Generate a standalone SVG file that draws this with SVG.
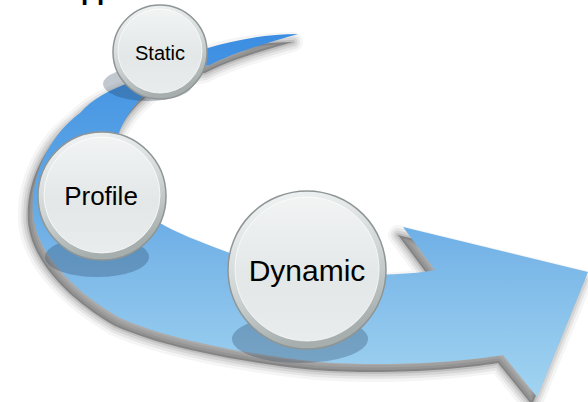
<svg xmlns="http://www.w3.org/2000/svg" width="588" height="402" viewBox="0 0 588 402">
  <defs>
    <path id="flowShape" d="M298,34 C270,42 235,52 210,65 C150,74 105,85 80,113 C50,135 30,175 33,215 C38,258 80,295 120,318 C170,340 250,355 320,362 C390,367 460,362 503,355 L537,397 L588,272 L403,227 L435,270 C390,279 290,275 227,252 C200,242 175,232 160,223 C120,200 108,160 120,130 C128,112 140,98 150,90 C170,70 190,55 208,48 C235,40 265,34 298,34 Z"/>
    <linearGradient id="bandFill" gradientUnits="userSpaceOnUse" x1="0" y1="30" x2="0" y2="400">
      <stop offset="0" stop-color="#3a8de2"/>
      <stop offset="0.45" stop-color="#62a8e6"/>
      <stop offset="0.62" stop-color="#7ab7e8"/>
      <stop offset="1" stop-color="#a3d5f1"/>
    </linearGradient>
    <linearGradient id="rim" x1="0" y1="0" x2="0.3" y2="1">
      <stop offset="0" stop-color="#f6f8f8"/>
      <stop offset="0.6" stop-color="#cfd5d5"/>
      <stop offset="1" stop-color="#a7aeae"/>
    </linearGradient>
    <linearGradient id="face" x1="0" y1="0" x2="0" y2="1">
      <stop offset="0" stop-color="#f2f4f4"/>
      <stop offset="0.55" stop-color="#e3e7e7"/>
      <stop offset="1" stop-color="#e8ecec"/>
    </linearGradient>
    <style>
      .rim { fill: url(#rim); stroke: #8f9595; stroke-width: 1.5; }
      .face { fill: url(#face); stroke: #ffffff; stroke-opacity: 0.7; stroke-width: 1; }
      .spot { fill: #1e3250; fill-opacity: 0.27; }
      .label { font-family: "Liberation Sans", Arial, sans-serif; fill: #000; text-anchor: middle; }
      .halo { fill: none; stroke: #000; stroke-linejoin: round; }
    </style>
  </defs>

  <rect width="588" height="402" fill="#ffffff"/>

  <!-- heading, cut off at the top edge -->
  <text x="81" y="-0.5" font-family="Liberation Sans, Arial, sans-serif" font-size="26" font-weight="bold" fill="#000">pp</text>

  <!-- curved flow arrow; the drop shadow is built from stacked translucent outlines -->
  <g id="connectors">
    <g transform="translate(-5,8)">
      <use href="#flowShape" class="halo" stroke-width="20" stroke-opacity="0.04"/>
      <use href="#flowShape" class="halo" stroke-width="14" stroke-opacity="0.06"/>
      <use href="#flowShape" class="halo" stroke-width="9" stroke-opacity="0.08"/>
      <use href="#flowShape" class="halo" stroke-width="4" stroke-opacity="0.1"/>
      <use href="#flowShape" fill="#000" fill-opacity="0.3"/>
    </g>
    <use href="#flowShape" fill="url(#bandFill)"/>
  </g>

  <g id="node-static">
    <ellipse class="spot" cx="148" cy="84" rx="45" ry="17"/>
    <circle class="rim" cx="160" cy="52" r="47"/>
    <circle class="face" cx="160" cy="51" r="42"/>
    <text class="label" x="160" y="60" font-size="20">Static</text>
  </g>

  <g id="node-profile">
    <ellipse class="spot" cx="97" cy="257" rx="52" ry="20"/>
    <circle class="rim" cx="102" cy="196" r="64"/>
    <circle class="face" cx="102" cy="195" r="58"/>
    <text class="label" x="101" y="205" font-size="26">Profile</text>
  </g>

  <g id="node-dynamic">
    <ellipse class="spot" cx="300" cy="339" rx="68" ry="24"/>
    <circle class="rim" cx="307" cy="270" r="79"/>
    <circle class="face" cx="307" cy="269" r="72"/>
    <text class="label" x="307" y="281" font-size="30">Dynamic</text>
  </g>
</svg>
